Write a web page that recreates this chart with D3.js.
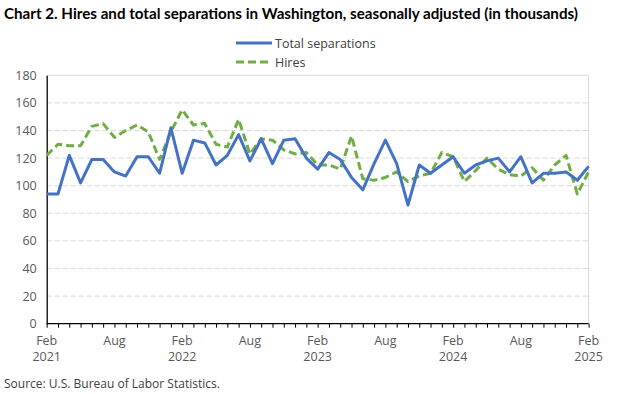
<!DOCTYPE html>
<html><head><meta charset="utf-8">
<script src="https://cdn.jsdelivr.net/npm/d3@7"></script>
<style>body{margin:0;background:#fff}svg{display:block}</style>
</head><body>
<svg id="c" width="624" height="394"></svg>
<script>
const months = ["Feb","Mar","Apr","May","Jun","Jul","Aug","Sep","Oct","Nov","Dec","Jan"];
const startYear = 2021;
const separations = [94,94,122,102,119,119,110,107,121,121,109,142,109,133,131,115,122,137,118,134,116,133,134,120,112,124,119,106,97,116,133,116,86,115,109,115,121,109,115,118,120,110,121,102,109,109,110,104,114];
const hires = [122,130,129,129,143,145,135,140,144,139,119,139,155,144,145,130,128,148,123,134,133,126,123,124,115,115,112,136,105,104,106,110,103,107,109,124,121,103,111,120,112,108,107,113,104,115,122,94,110];
const yTicks = [0,20,40,60,80,100,120,140,160,180];
const seriesNames = ["Total separations","Hires"];

const svg = d3.select("#c");
const m = {l:46.7, r:588.6, t:75.3, b:323.7};
const n = separations.length;
const x = d3.scaleLinear().domain([0, n-1]).range([m.l, m.r]);
const y = d3.scaleLinear().domain([0,180]).range([m.b, m.t]);

// title
svg.append("text").attr("x",4).attr("y",19)
  .attr("font-family","Lato, 'Open Sans', sans-serif").attr("font-weight","bold")
  .attr("font-size",14.5).attr("fill","#000")
  .attr("textLength",574).attr("lengthAdjust","spacingAndGlyphs")
  .text("Chart 2. Hires and total separations in Washington, seasonally adjusted (in thousands)");

// gridlines
svg.append("g").selectAll("line").data(yTicks.filter(d=>d>0)).join("line")
  .attr("x1",m.l).attr("x2",m.r).attr("y1",d=>y(d)).attr("y2",d=>y(d))
  .attr("stroke","#d9d9d9").attr("stroke-width",1)
  .attr("stroke-dasharray",d=>d===180?null:"5,3");
// right border
svg.append("line").attr("x1",m.r).attr("x2",m.r).attr("y1",m.t).attr("y2",m.b)
  .attr("stroke","#d9d9d9");

// y axis
const yAxis = d3.axisLeft(y).tickValues(yTicks).tickSize(0).tickPadding(10);
const gy = svg.append("g").attr("transform",`translate(${m.l},0)`).call(yAxis);
gy.select(".domain").attr("stroke","#000").attr("stroke-width",1.3);
gy.selectAll("text").attr("font-family","'Open Sans', sans-serif").attr("font-size",12.5).attr("fill","#595959");

// x axis
const xAxis = d3.axisBottom(x).tickValues(d3.range(n)).tickSize(4).tickFormat("");
const gx = svg.append("g").attr("transform",`translate(0,${m.b})`).call(xAxis);
gx.select(".domain").attr("stroke","#000").attr("stroke-width",1.3).attr("d",`M${m.l},0H${m.r}`);
gx.selectAll(".tick line").attr("stroke","#000");

const labIdx = d3.range(0,n,6);
const lab = svg.append("g").attr("font-family","'Open Sans', sans-serif").attr("font-size",12.5).attr("fill","#595959").attr("text-anchor","middle");
labIdx.forEach(i=>{
  lab.append("text").attr("x",x(i)).attr("y",m.b+21).text(months[i%12]);
  if (i%12===0) lab.append("text").attr("x",x(i)).attr("y",m.b+37).text(startYear + i/12);
});

// lines
const line = d3.line().x((d,i)=>x(i)).y(d=>y(d));
svg.append("path").datum(hires).attr("d",line).attr("fill","none")
  .attr("stroke","#70AD47").attr("stroke-width",3).attr("stroke-dasharray","8,4").attr("stroke-linejoin","round");
svg.append("path").datum(separations).attr("d",line).attr("fill","none")
  .attr("stroke","#4472C4").attr("stroke-width",3).attr("stroke-linejoin","round");

// legend
const lg = svg.append("g").attr("font-family","'Open Sans', sans-serif").attr("font-size",12.5).attr("fill","#404040");
lg.append("line").attr("x1",236).attr("x2",272).attr("y1",43).attr("y2",43).attr("stroke","#4472C4").attr("stroke-width",3);
lg.append("text").attr("x",275).attr("y",47.5).text(seriesNames[0]);
lg.append("line").attr("x1",236).attr("x2",272).attr("y1",62).attr("y2",62).attr("stroke","#70AD47").attr("stroke-width",3).attr("stroke-dasharray","8,4");
lg.append("text").attr("x",275).attr("y",66.5).text(seriesNames[1]);

// source
svg.append("text").attr("x",4).attr("y",388).attr("font-family","'Open Sans', sans-serif")
  .attr("font-size",12).attr("fill","#404040").text("Source: U.S. Bureau of Labor Statistics.");
</script>
</body></html>
